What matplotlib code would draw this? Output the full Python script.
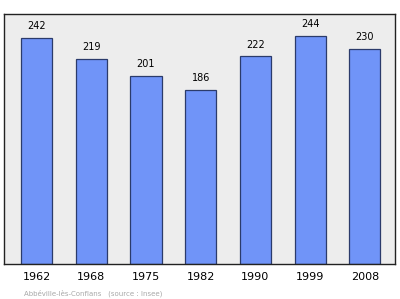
import matplotlib
matplotlib.use('Agg')
import matplotlib.pyplot as plt

years = ['1962', '1968', '1975', '1982', '1990', '1999', '2008']
population = [242, 219, 201, 186, 222, 244, 230]

fig = plt.figure(figsize=(4.0, 2.99), dpi=100)
# plot box in pixels: left 4, right 395, top 13.5, bottom 264
ax = fig.add_axes([4/400, 1 - 264/299, (395-4)/400, (264-13.5)/299])
ax.set_facecolor('#ededed')

x = list(range(len(years)))
bars = ax.bar(x, population, width=0.57, color='#7094f8',
              edgecolor='#2b3b6b', linewidth=0.9)

for xi, val in zip(x, population):
    ax.annotate(str(val), (xi, val), xytext=(0, 5), textcoords='offset points',
                ha='center', va='bottom', fontsize=7, color='black')

ax.set_xlim(-0.594, 6.55)
ax.set_ylim(0, 268)
ax.set_yticks([])
ax.set_xticks(x)
ax.set_xticklabels(years, fontsize=8)
ax.tick_params(axis='x', length=0, pad=6)
for sp in ax.spines.values():
    sp.set_color('#222222')
    sp.set_linewidth(1.0)

fig.text(24/400, 1 - 293/299, u'Abb\u00e9ville-l\u00e8s-Conflans   (source : Insee)',
         fontsize=5.0, color='#a8a8a8', va='center', ha='left')

fig.savefig('out.png', dpi=100)
